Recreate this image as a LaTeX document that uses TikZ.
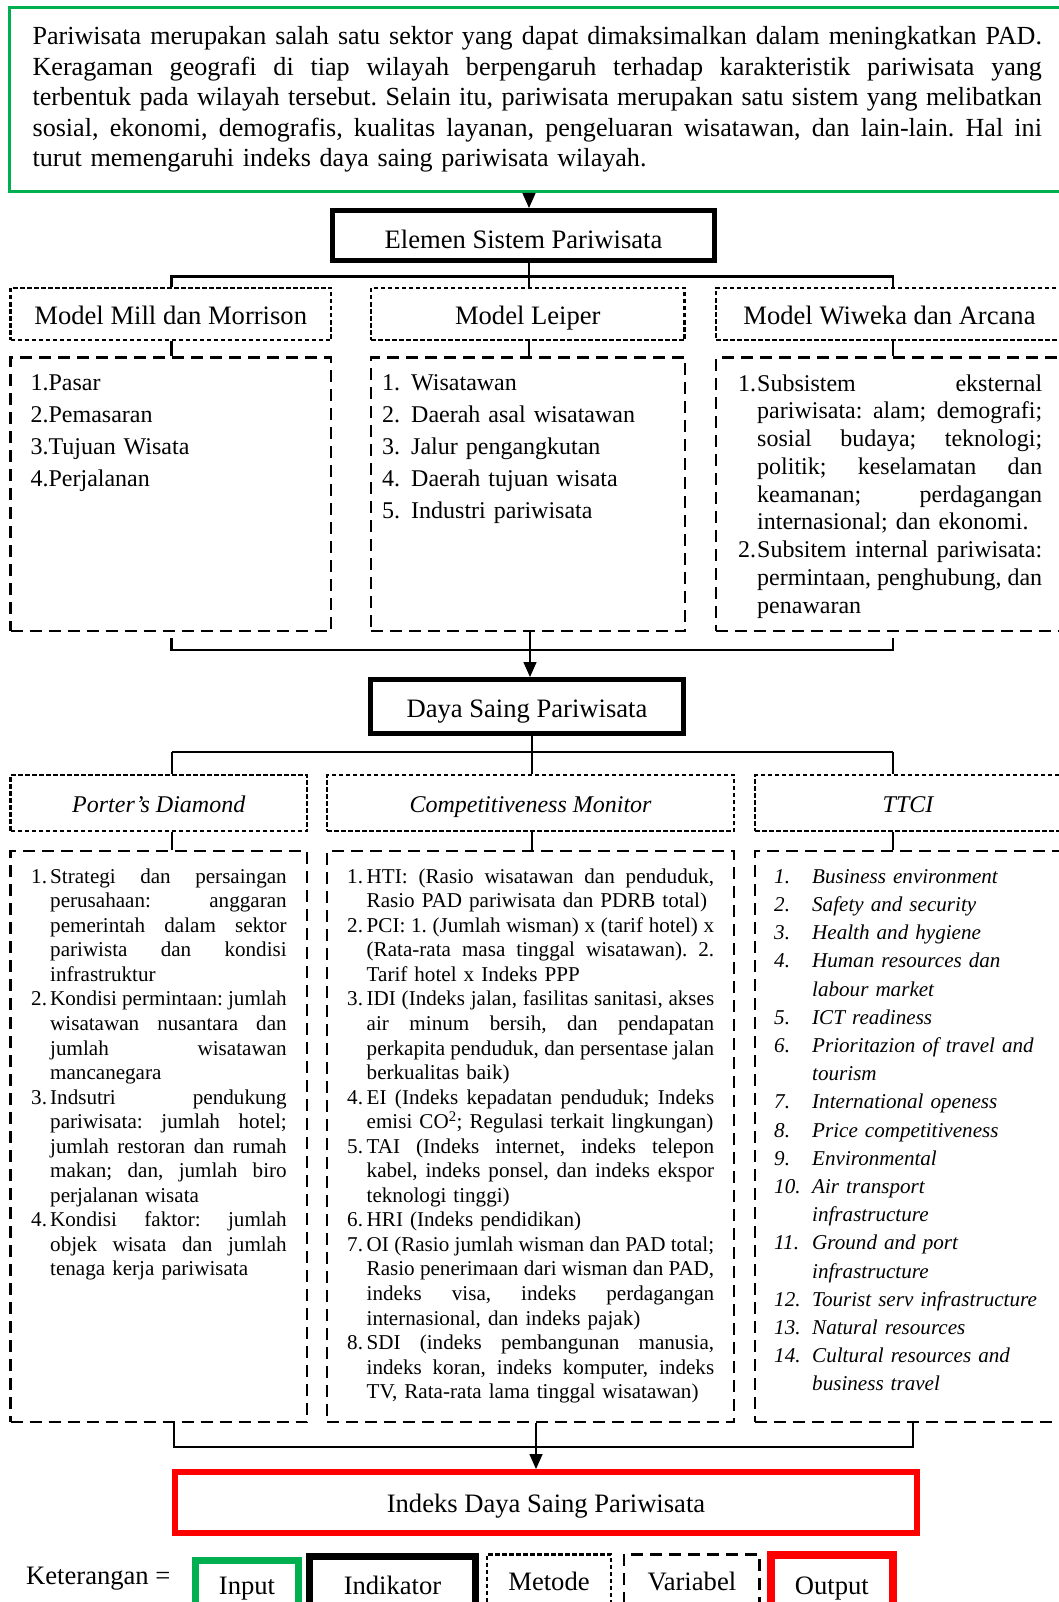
\documentclass[tikz,border=0pt]{standalone}
\usepackage{fontspec}
\setmainfont{Liberation Serif}
\usetikzlibrary{arrows.meta}
\definecolor{ingreen}{HTML}{00B050}
\definecolor{outred}{HTML}{FF0000}

% list lines: number column of width \numw, then a justified (NJ) or ragged (NR) line
% of total width \linew
\newlength\numw
\newlength\linew
\newcommand\NJ[2]{\noindent\makebox[\numw][l]{\strut#1}%
  \makebox[\dimexpr\linew-\numw\relax][s]{\spaceskip=\fontdimen2\font plus 1fil minus 0.45\fontdimen2\font\relax#2}\par}
\newcommand\NR[2]{\noindent\makebox[\numw][l]{\strut#1}\mbox{#2}\par}
\newcommand\fsz[2]{\fontsize{#1}{#2}\selectfont}

\tikzset{
  frame/.style 2 args={rectangle, inner sep=0pt, minimum width=#1, minimum height=#2},
  headA/.style={font=\fsz{26.6}{30.5}, text height=21.6pt, text depth=0pt},
  headB/.style={font=\fsz{24}{28}\itshape, text height=19.9pt, text depth=0pt},
  legtxt/.style={font=\fsz{26.6}{30.5}, text height=19.6pt, text depth=0pt},
  inbox/.style={draw=ingreen, line width=3pt},
  indbox/.style={draw=black, line width=5pt},
  metbox/.style={draw=black, line width=2.4pt, dash pattern=on 4.5pt off 2.5pt},
  varbox/.style={draw=black, line width=2.7pt, dash pattern=on 12pt off 7pt},
  outbox/.style={draw=outred, line width=6pt},
  bus/.style={line width=2.3pt},
  stem/.style={line width=1.4pt},
  arr/.style={line width=1.4pt, -{Triangle[length=15pt,width=13pt]}},
  listtxt/.style={anchor=north west, inner sep=0pt, text width=#1},
}

\begin{document}
\frenchspacing
\begin{tikzpicture}[x=1pt, y=-1pt]
\useasboundingbox (0,0) rectangle (1059,1602);
\clip (0,0) rectangle (1059,1602);

% ---------- input ----------
\node[inbox, frame={1054pt}{183.5pt}] (intro) at (536,99.75) {};
\node[listtxt=1009.3pt, font=\fsz{26.1}{30.5}] (introtxt) at (32.4,23.45) {\setlength\numw{0pt}\setlength\linew{1009.3pt}%
\NJ{}{Pariwisata merupakan salah satu sektor yang dapat dimaksimalkan dalam meningkatkan PAD.}
\NJ{}{Keragaman geografi di tiap wilayah berpengaruh terhadap karakteristik pariwisata yang}
\NJ{}{terbentuk pada wilayah tersebut. Selain itu, pariwisata merupakan satu sistem yang melibatkan}
\NJ{}{sosial, ekonomi, demografis, kualitas layanan, pengeluaran wisatawan, dan lain-lain. Hal ini}
\NR{}{turut memengaruhi indeks daya saing pariwisata wilayah.}};

% ---------- tourism system ----------
\node[indbox, headA, text height=25.6pt, frame={382pt}{50pt}] (elemen) at (523.5,235.5) {Elemen Sistem Pariwisata};

\node[metbox, headA, frame={320.5pt}{52pt}] (millH) at (170.75,314) {Model Mill dan Morrison};
\node[metbox, headA, frame={313.5pt}{52pt}] (leiH) at (527.75,314) {Model Leiper};
\node[metbox, headA, frame={347pt}{52pt}] (wiwH) at (889.5,314) {Model Wiweka dan Arcana};

\node[varbox, frame={320.5pt}{273.5pt}] (millL) at (170.75,494.25) {};
\node[varbox, frame={314pt}{273.5pt}] (leiL) at (528,494.25) {};
\node[varbox, frame={347pt}{273.5pt}] (wiwL) at (889.5,494.25) {};

\node[listtxt=290pt, font=\fsz{24}{32}] (milltxt) at (30.4,368.1) {\setlength\numw{0pt}%
\NR{}{1.Pasar}
\NR{}{2.Pemasaran}
\NR{}{3.Tujuan Wisata}
\NR{}{4.Perjalanan}};

\node[listtxt=290pt, font=\fsz{24}{32}] (leitxt) at (382,368.1) {\setlength\numw{29pt}%
\NR{1.}{Wisatawan}
\NR{2.}{Daerah asal wisatawan}
\NR{3.}{Jalur pengangkutan}
\NR{4.}{Daerah tujuan wisata}
\NR{5.}{Industri pariwisata}};

\node[listtxt=304pt, font=\fsz{24}{27.75}] (wiwtxt) at (738,371.6) {\setlength\numw{19pt}\setlength\linew{304pt}%
\NJ{1.}{Subsistem eksternal}
\NJ{}{pariwisata: alam; demografi;}
\NJ{}{sosial budaya; teknologi;}
\NJ{}{politik; keselamatan dan}
\NJ{}{keamanan; perdagangan}
\NR{}{internasional; dan ekonomi.}
\NJ{2.}{Subsitem internal pariwisata:}
\NJ{}{permintaan, penghubung, dan}
\NR{}{penawaran}};

\coordinate (j1) at (529,276.5);
\coordinate (j1L) at (171.5,276.5);
\coordinate (j1R) at (893,276.5);
\draw[arr] (intro.south -| j1) -- (elemen.north -| j1);
\draw[bus] (elemen.south -| j1) -- (j1) -- (leiH.north -| j1);
\draw[bus] (millH.north -| j1L) -- (j1L) -- (j1R) -- (wiwH.north -| j1R);
\draw[bus] (millH.south -| j1L) -- (millL.north -| j1L);
\draw[bus] (leiH.south -| j1) -- (leiL.north -| j1);
\draw[bus] (wiwH.south -| j1R) -- (wiwL.north -| j1R);

\coordinate (k1L) at (171.5,650);
\coordinate (k1R) at (893,650);
\coordinate (k1Lt) at (171.5,638);
\coordinate (k1Rt) at (893,638);
\coordinate (a1) at (530,650);
\draw[bus] (k1Lt) -- (k1L) -- (k1R) -- (k1Rt);

% ---------- competitiveness ----------
\node[indbox, headA, frame={313pt}{54pt}] (daya) at (527,706.5) {Daya Saing Pariwisata};
\draw[arr] (leiL.south -| a1) -- (daya.north -| a1);

\node[metbox, headB, frame={296.5pt}{56pt}] (porter) at (158.75,803) {Porter’s Diamond};
\node[metbox, headB, frame={407pt}{56pt}] (cm) at (530.5,803) {Competitiveness Monitor};
\node[metbox, headB, frame={306pt}{56pt}] (ttci) at (908,803) {TTCI};

\node[varbox, frame={296.5pt}{571pt}] (porterL) at (158.75,1136.5) {};
\node[varbox, frame={407pt}{571pt}] (cmL) at (530.5,1136.5) {};
\node[varbox, frame={306pt}{571pt}] (ttciL) at (908,1136.5) {};

\coordinate (j2) at (532,752);
\coordinate (j2L) at (172,752);
\coordinate (j2R) at (893,752);
\draw[stem] (daya.south -| j2) -- (j2);
\draw[bus] (j2L) -- (j2R);
\draw[stem] (j2L) -- (porter.north -| j2L);
\draw[stem] (j2) -- (cm.north -| j2);
\draw[stem] (j2R) -- (ttci.north -| j2R);
\draw[stem] (porter.south -| j2L) -- (porterL.north -| j2L);
\draw[stem] (cm.south -| j2) -- (cmL.north -| j2);
\draw[stem] (ttci.south -| j2R) -- (ttciL.north -| j2R);

\node[listtxt=255.5pt, font=\fsz{21.1}{24.55}] (portertxt) at (31,865.8) {\setlength\numw{19pt}\setlength\linew{255.5pt}%
\NJ{1.}{Strategi dan persaingan}
\NJ{}{perusahaan: anggaran}
\NJ{}{pemerintah dalam sektor}
\NJ{}{pariwista dan kondisi}
\NR{}{infrastruktur}
\NJ{2.}{Kondisi permintaan: jumlah}
\NJ{}{wisatawan nusantara dan}
\NJ{}{jumlah wisatawan}
\NR{}{mancanegara}
\NJ{3.}{Indsutri pendukung}
\NJ{}{pariwisata: jumlah hotel;}
\NJ{}{jumlah restoran dan rumah}
\NJ{}{makan; dan, jumlah biro}
\NR{}{perjalanan wisata}
\NJ{4.}{Kondisi faktor: jumlah}
\NJ{}{objek wisata dan jumlah}
\NR{}{tenaga kerja pariwisata}};

\node[listtxt=367pt, font=\fsz{21.1}{24.55}] (cmtxt) at (347,865.8) {\setlength\numw{19.5pt}\setlength\linew{367pt}%
\NJ{1.}{HTI: (Rasio wisatawan dan penduduk,}
\NR{}{Rasio PAD pariwisata dan PDRB total)}
\NJ{2.}{PCI: 1. (Jumlah wisman) x (tarif hotel) x}
\NJ{}{(Rata-rata masa tinggal wisatawan). 2.}
\NR{}{Tarif hotel x Indeks PPP}
\NJ{3.}{IDI (Indeks jalan, fasilitas sanitasi, akses}
\NJ{}{air minum bersih, dan pendapatan}
\NJ{}{perkapita penduduk, dan persentase jalan}
\NR{}{berkualitas baik)}
\NJ{4.}{EI (Indeks kepadatan penduduk; Indeks}
\NR{}{emisi CO\smash{\textsuperscript{2}}; Regulasi terkait lingkungan)}
\NJ{5.}{TAI (Indeks internet, indeks telepon}
\NJ{}{kabel, indeks ponsel, dan indeks ekspor}
\NR{}{teknologi tinggi)}
\NR{6.}{HRI (Indeks pendidikan)}
\NJ{7.}{OI (Rasio jumlah wisman dan PAD total;}
\NJ{}{Rasio penerimaan dari wisman dan PAD,}
\NJ{}{indeks visa, indeks perdagangan}
\NR{}{internasional, dan indeks pajak)}
\NJ{8.}{SDI (indeks pembangunan manusia,}
\NJ{}{indeks koran, indeks komputer, indeks}
\NR{}{TV, Rata-rata lama tinggal wisatawan)}};

\node[listtxt=280pt, font=\fsz{21.1}{28.2}\itshape] (ttcitxt) at (774,863.3) {\setlength\numw{38pt}%
\NR{1.}{Business environment}
\NR{2.}{Safety and security}
\NR{3.}{Health and hygiene}
\NR{4.}{Human resources dan}
\NR{}{labour market}
\NR{5.}{ICT readiness}
\NR{6.}{Prioritazion of travel and}
\NR{}{tourism}
\NR{7.}{International openess}
\NR{8.}{Price competitiveness}
\NR{9.}{Environmental}
\NR{10.}{Air transport}
\NR{}{infrastructure}
\NR{11.}{Ground and port}
\NR{}{infrastructure}
\NR{12.}{Tourist serv infrastructure}
\NR{13.}{Natural resources}
\NR{14.}{Cultural resources and}
\NR{}{business travel}};

% ---------- output ----------
\node[outbox, headA, text height=19.6pt, frame={742pt}{60.7pt}] (idx) at (546,1502.4) {Indeks Daya Saing Pariwisata};

\coordinate (k2L) at (174,1447);
\coordinate (k2R) at (913,1447);
\coordinate (a2) at (536,1447);
\draw[bus] (porterL.south -| k2L) -- (k2L) -- (k2R) -- (ttciL.south -| k2R);
\draw[arr] (cmL.south -| a2) -- (idx.north -| a2);

% ---------- legend ----------
\node[anchor=base west, inner sep=0pt, font=\fsz{26.6}{30.5}] (ket) at (26,1584.5) {Keterangan =};
\node[inbox, line width=6.5pt, legtxt, frame={103pt}{47.8pt}] (lgIn) at (247,1584.2) {Input};
\node[indbox, line width=7pt, legtxt, frame={166pt}{55.4pt}] (lgInd) at (392.5,1584.2) {Indikator};
\node[metbox, line width=2.5pt, legtxt, frame={124pt}{51.8pt}] (lgMet) at (549,1580.2) {Metode};
\node[varbox, legtxt, frame={135.7pt}{51.6pt}] (lgVar) at (691.85,1580.2) {Variabel};
\node[outbox, line width=8pt, legtxt, frame={121.7pt}{59pt}] (lgOut) at (831.85,1584.2) {Output};
\end{tikzpicture}
\end{document}
